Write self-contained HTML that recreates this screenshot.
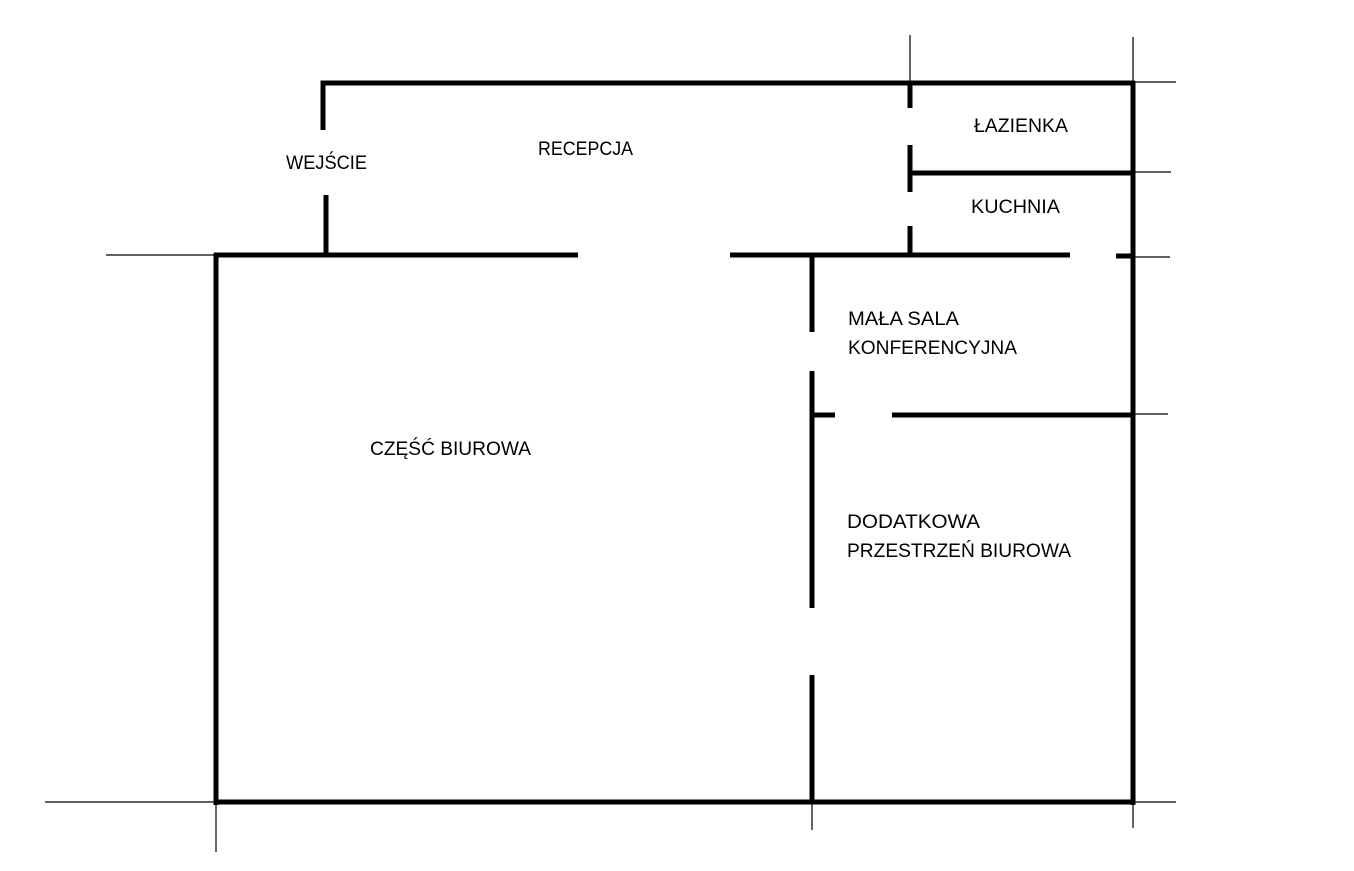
<!DOCTYPE html>
<html><head><meta charset="utf-8"><style>html,body{margin:0;padding:0;background:#fff}svg{display:block}</style></head>
<body>
<svg width="1354" height="871" viewBox="0 0 1354 871" xmlns="http://www.w3.org/2000/svg">
<g stroke="#000" stroke-width="1.2" fill="none">
<line x1="910" y1="35" x2="910" y2="83"/>
<line x1="1133" y1="37" x2="1133" y2="83"/>
<line x1="1133" y1="82" x2="1176" y2="82"/>
<line x1="1133" y1="172" x2="1171" y2="172"/>
<line x1="1133" y1="257" x2="1170" y2="257"/>
<line x1="1133" y1="414" x2="1168" y2="414"/>
<line x1="106" y1="255" x2="216" y2="255"/>
<line x1="45" y1="802" x2="216" y2="802"/>
<line x1="1133" y1="802" x2="1176" y2="802"/>
<line x1="216" y1="803" x2="216" y2="852"/>
<line x1="812" y1="803" x2="812" y2="830"/>
<line x1="1133" y1="803" x2="1133" y2="828"/>
</g>
<g stroke="#000" stroke-width="5" fill="none" stroke-linecap="butt">
<polyline points="323,130 323,83 1135,83"/>
<line x1="1133" y1="81" x2="1133" y2="805"/>
<line x1="326" y1="195" x2="326" y2="255"/>
<line x1="214" y1="255" x2="578" y2="255"/>
<line x1="730" y1="255" x2="1070" y2="255"/>
<line x1="1116" y1="256" x2="1133" y2="256"/>
<line x1="216" y1="253" x2="216" y2="805"/>
<line x1="214" y1="802" x2="1135" y2="802"/>
<line x1="910" y1="83" x2="910" y2="108"/>
<line x1="910" y1="145" x2="910" y2="192"/>
<line x1="910" y1="226" x2="910" y2="255"/>
<line x1="910" y1="173" x2="1133" y2="173"/>
<line x1="812" y1="255" x2="812" y2="332"/>
<line x1="812" y1="371" x2="812" y2="608"/>
<line x1="812" y1="675" x2="812" y2="803"/>
<line x1="812" y1="415" x2="835" y2="415"/>
<line x1="892" y1="415" x2="1133" y2="415"/>
</g>
<g font-family="Liberation Sans, sans-serif" font-size="19" fill="#000" lengthAdjust="spacingAndGlyphs">
<text x="286" y="169" textLength="81" lengthAdjust="spacingAndGlyphs">WEJŚCIE</text>
<text x="538" y="155" textLength="95" lengthAdjust="spacingAndGlyphs">RECEPCJA</text>
<text x="974" y="132" textLength="94" lengthAdjust="spacingAndGlyphs">ŁAZIENKA</text>
<text x="971" y="213" textLength="89" lengthAdjust="spacingAndGlyphs">KUCHNIA</text>
<text x="848" y="325" textLength="111" lengthAdjust="spacingAndGlyphs">MAŁA SALA</text>
<text x="848" y="354" textLength="169" lengthAdjust="spacingAndGlyphs">KONFERENCYJNA</text>
<text x="370" y="455" textLength="161" lengthAdjust="spacingAndGlyphs">CZĘŚĆ BIUROWA</text>
<text x="847" y="528" textLength="133" lengthAdjust="spacingAndGlyphs">DODATKOWA</text>
<text x="847" y="557" textLength="224" lengthAdjust="spacingAndGlyphs">PRZESTRZEŃ BIUROWA</text>
</g>
</svg>
</body></html>
